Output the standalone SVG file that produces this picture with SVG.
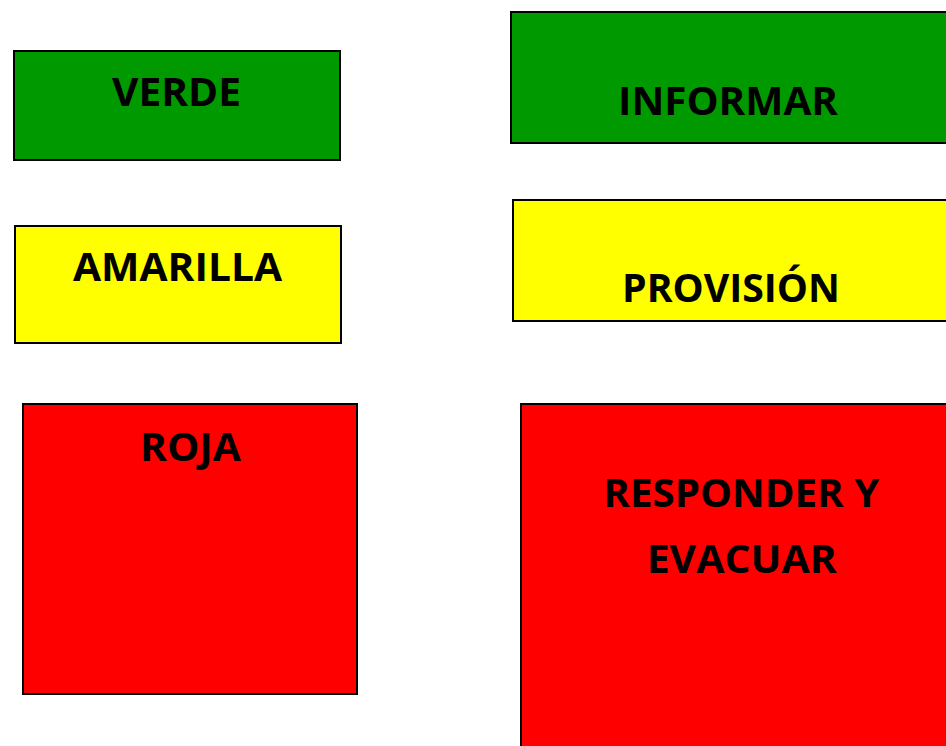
<svg xmlns="http://www.w3.org/2000/svg" width="946" height="746" viewBox="0 0 946 746">
<style>
.box{stroke:#000;stroke-width:2}
.g{fill:#009900}.y{fill:#ffff00}.r{fill:#ff0000}
text{font-family:"Open Sans","Noto Sans","Liberation Sans",sans-serif;font-weight:bold;font-size:40px;fill:#000;text-anchor:middle}
</style>
<rect width="946" height="746" fill="#fff"/>
<g id="verde"><rect class="box g" x="14" y="51" width="326" height="109"/><text x="176.5" y="105.5" textLength="129" lengthAdjust="spacingAndGlyphs" font-size="38">VERDE</text></g>
<g id="informar"><rect class="box g" x="511" y="12" width="436" height="131"/><text x="728" y="115" textLength="220" lengthAdjust="spacingAndGlyphs" font-size="41">INFORMAR</text></g>
<g id="amarilla"><rect class="box y" x="15" y="226" width="326" height="117"/><text x="177.5" y="280.7" textLength="209" lengthAdjust="spacingAndGlyphs">AMARILLA</text></g>
<g id="provision"><rect class="box y" x="513" y="200" width="434" height="121"/><text x="731" y="301.7" textLength="218" lengthAdjust="spacingAndGlyphs">PROVISIÓN</text></g>
<g id="roja"><rect class="box r" x="23" y="404" width="334" height="290"/><text x="190.5" y="461" textLength="101" lengthAdjust="spacingAndGlyphs">ROJA</text></g>
<g id="responder"><rect class="box r" x="521" y="404" width="426" height="344"/><text x="741.3" y="506.7" textLength="276" lengthAdjust="spacingAndGlyphs" font-size="41">RESPONDER Y</text><text x="741.7" y="573.3" textLength="190" lengthAdjust="spacingAndGlyphs" font-size="41">EVACUAR</text></g>
<g id="connectors"/>
</svg>
